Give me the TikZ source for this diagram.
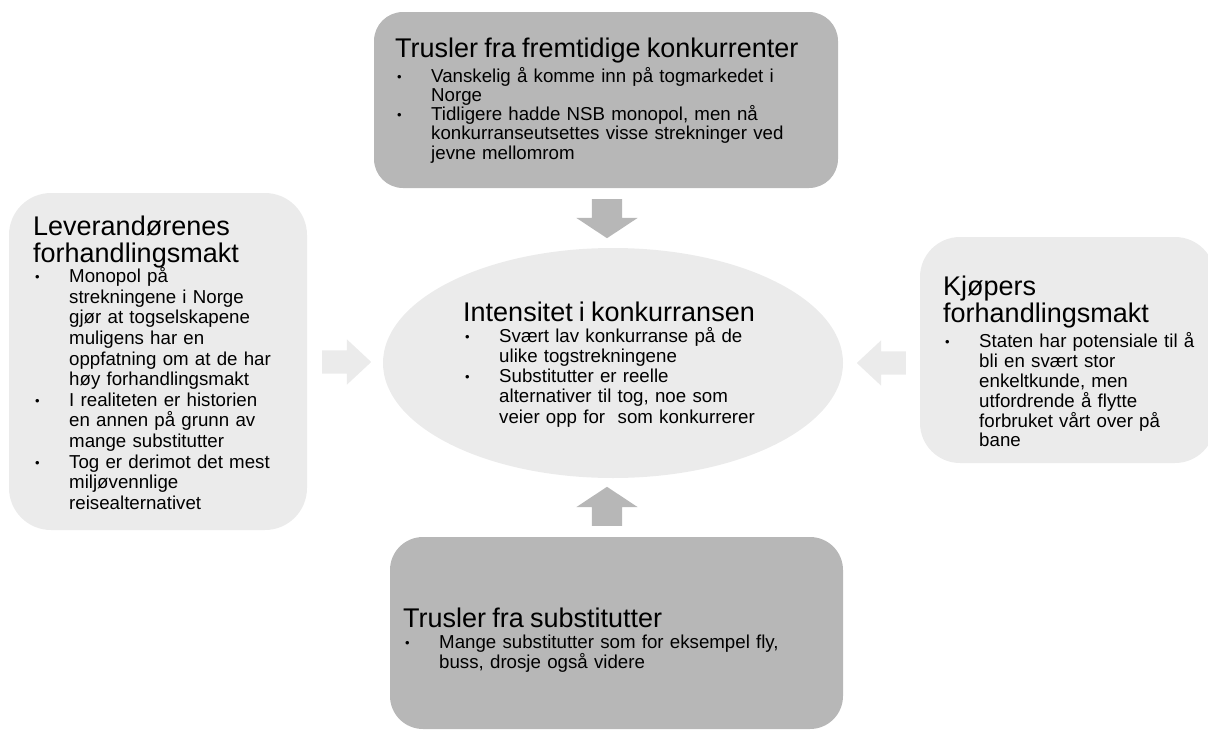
\documentclass[tikz,border=0pt]{standalone}
\usepackage{fontspec}
\setmainfont{Liberation Sans}
\usetikzlibrary{shapes.geometric,shapes.arrows}

\definecolor{morkgraa}{RGB}{183,183,183}
\definecolor{lysgraa}{RGB}{235,235,235}

\newlength{\innrykk}\setlength{\innrykk}{36pt}
\newcommand{\tittel}[2][0pt]{{\fontsize{27}{27}\selectfont #2\par}\vspace{#1}}
\newcommand{\punkt}[1]{\par\hangindent=\innrykk\hangafter=1\noindent
  \makebox[\innrykk][l]{\hspace{2pt}\raisebox{1pt}{\fontsize{13}{13}\selectfont\textbullet}}#1\par}

\tikzset{
  boks/.style={rectangle, draw=none, inner sep=0pt},
  tekst/.style={anchor=base west, inner sep=0pt, text width=440pt, align=left,
    font=\fontsize{18.7}{20.3}\selectfont, execute at begin node={\lineskiplimit=-20pt}},
  pilstor/.style={single arrow, draw=none, fill=morkgraa, anchor=tail, inner sep=0pt,
    inner ysep=15pt, single arrow head extend=15.5pt, single arrow tip angle=113,
    minimum height=39pt},
  pilsmal/.style={single arrow, draw=none, fill=lysgraa, anchor=tail, inner sep=0pt,
    inner ysep=11.5pt, single arrow head extend=11pt, single arrow tip angle=86,
    minimum height=49pt}
}

\begin{document}
\begin{tikzpicture}[x=1pt,y=-1pt]
\useasboundingbox (0,0) rectangle (1208,734);

\node[boks, fill=morkgraa, rounded corners=29pt, minimum width=464pt, minimum height=176pt] (fremtidige) at (606,100) {};
\node[boks, fill=lysgraa, rounded corners=42pt, minimum width=298pt, minimum height=337pt] (leverandor) at (158,361.5) {};
\node[ellipse, fill=lysgraa, inner sep=0pt, minimum width=460pt, minimum height=230pt] (intensitet) at (613,363) {};
\node[boks, fill=lysgraa, rounded corners=40pt, minimum width=295pt, minimum height=226pt] (kjoper) at (1067.5,350) {};
\node[boks, fill=morkgraa, rounded corners=33pt, minimum width=453pt, minimum height=192pt] (substitutter) at (616.5,633) {};

\node[pilstor, rotate=-90] (pilNed) at (607,199) {};
\node[pilstor, rotate=90] (pilOpp) at (607,526) {};
\node[pilsmal] (pilHoyre) at (322,362) {};
\node[pilsmal, rotate=180] (pilVenstre) at (906,363) {};

\node[tekst, font=\fontsize{18.7}{19.3}\selectfont] (fremtidigeTekst) at (395,57) {
\tittel[5.7pt]{Trusler fra fremtidige konkurrenter}
\punkt{Vanskelig å komme inn på togmarkedet i\newline Norge}
\punkt{Tidligere hadde NSB monopol, men nå\newline konkurranseutsettes visse strekninger ved\newline jevne mellomrom}};

\node[tekst, font=\fontsize{18.7}{20.6}\selectfont] (leverandorTekst) at (33,235) {
\tittel{Leverandørenes\newline forhandlingsmakt}
\punkt{Monopol på\newline strekningene i Norge\newline gjør at togselskapene\newline muligens har en\newline oppfatning om at de har\newline høy forhandlingsmakt}
\punkt{I realiteten er historien\newline en annen på grunn av\newline mange substitutter}
\punkt{Tog er derimot det mest\newline miljøvennlige\newline reisealternativet}};

\node[tekst] (intensitetTekst) at (463,321) {
\tittel[0.7pt]{Intensitet i konkurransen}
\punkt{Svært lav konkurranse på de\newline ulike togstrekningene}
\punkt{Substitutter er reelle\newline alternativer til tog, noe som\newline veier opp for\ \ som konkurrerer}};

\node[tekst, font=\fontsize{18.7}{19.8}\selectfont] (kjoperTekst) at (943,295) {
\tittel[6pt]{Kjøpers\newline forhandlingsmakt}
\punkt{Staten har potensiale til å\newline bli en svært stor\newline enkeltkunde, men\newline utfordrende å flytte\newline forbruket vårt over på\newline bane}};

\node[tekst, font=\fontsize{18.7}{20}\selectfont] (substitutterTekst) at (403,627) {
\tittel[1pt]{Trusler fra substitutter}
\punkt{Mange substitutter som for eksempel fly,\newline buss, drosje også videre}};
\end{tikzpicture}
\end{document}
